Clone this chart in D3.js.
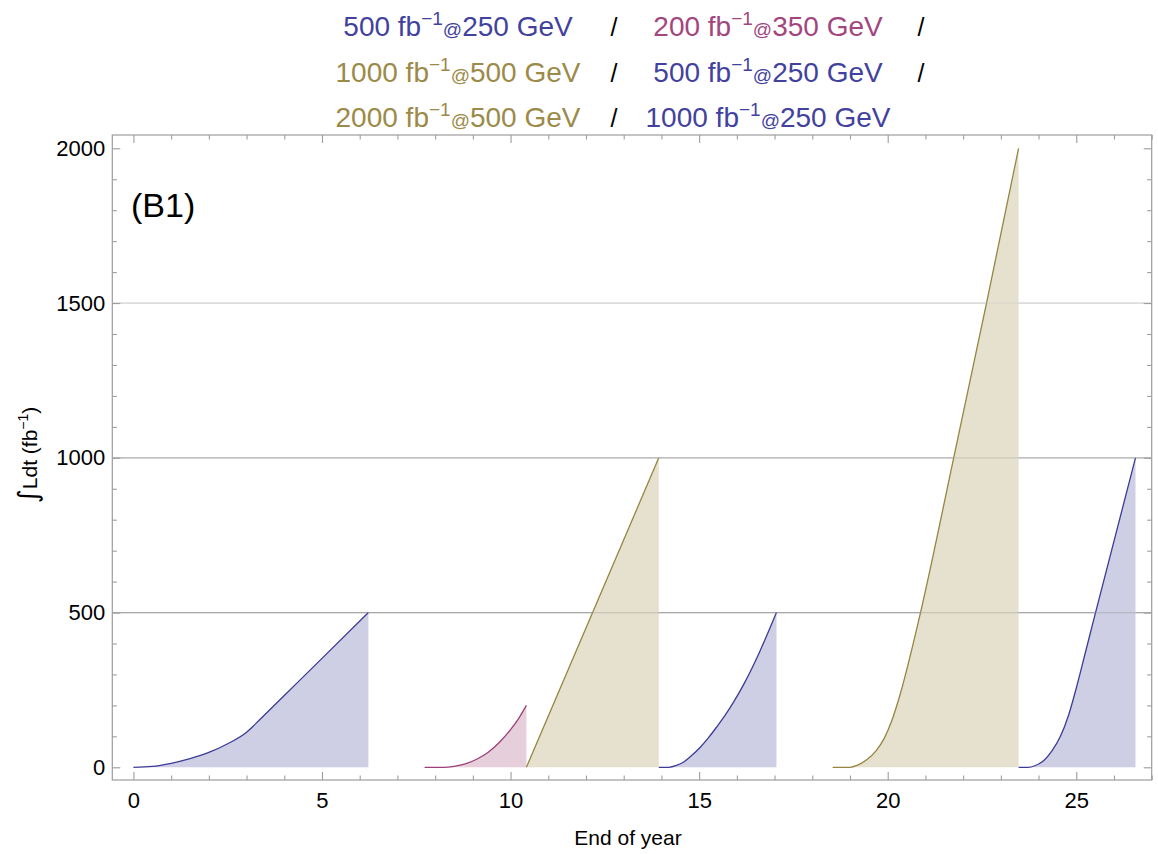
<!DOCTYPE html>
<html>
<head>
<meta charset="utf-8">
<script src="https://cdn.jsdelivr.net/npm/d3@7"></script>
<style>
  html, body { margin: 0; padding: 0; background: #fff; }
  svg { display: block; font-family: "Liberation Sans", Arial, Helvetica, sans-serif; }
</style>
</head>
<body>
<svg id="chart" width="1158" height="854"></svg>
<script>
// ---------------- data ----------------
const xTicks = [0, 5, 10, 15, 20, 25];
const yTicks = [0, 500, 1000, 1500, 2000];
const yGrid = [500, 1000, 1500];

// run stages: [year, integrated luminosity fb^-1]
const run1_250 = [[0,0],[0.5,3],[1,13],[1.5,28],[2,48],[2.5,76],[3,113],[3.25,142],[4,232],[5,352],[6.23,500]];
const run2_350 = [[7.72,0],[8.22,0],[8.5,3],[8.8,11],[9.1,26],[9.4,48],[9.7,80],[10.0,122],[10.2,155],[10.42,200]];
const run3_500 = [[10.42,0],[13.93,1000]];
const run4_250 = [[13.93,0],[14.19,0],[14.4,6],[14.6,18],[14.8,38],[15.03,65],[15.25,96],[15.47,131],[15.7,170],[15.92,212],[16.2,272],[16.6,372],[17.05,500]];
const run5_500 = [[18.54,0],[18.99,0],[19.2,7],[19.45,25],[19.7,55],[19.9,92],[20.1,148],[20.34,240],[20.6,362],[20.87,500],[21.75,1000],[22.62,1500],[23.47,2000]];
const run6_250 = [[23.47,0],[23.72,0],[23.9,5],[24.14,22],[24.35,52],[24.58,100],[24.8,170],[25.02,265],[25.25,375],[25.48,485],[26.57,1000]];

const runs = [run1_250, run2_350, run3_500, run4_250, run5_500, run6_250];
const runEnergy = ["250", "350", "500", "250", "500", "250"];

// title rows: [luminosity, energy] per stage, row by row
const titleLum = [["500", "200"], ["1000", "500"], ["2000", "1000"]];
const titleEnergy = [["250", "350"], ["500", "250"], ["500", "250"]];

// ---------------- styles ----------------
const lineColor = { "250": "#3c3c98", "350": "#9c3f77", "500": "#968540" };
const textColor = { "250": "#42429e", "350": "#a3467e", "500": "#9c8a48" };
const fillColor = { "250": "#c6c6e1", "350": "#e2c5d5", "500": "#e0dcc6" };

const svg = d3.select("#chart");
const frame = { left: 112.3, right: 1151.7, top: 135, bottom: 780 };

const x = d3.scaleLinear().domain([-0.56, 27.0]).range([frame.left, frame.right]);
const y = d3.scaleLinear().domain([0, 2000]).range([767.3, 148.3]);

// gridlines
const gridColor = { 500: "#a9a9a9", 1000: "#b4b4b4", 1500: "#d4d4d4" };
svg.append("g").selectAll("line").data(yGrid).join("line")
  .attr("x1", frame.left).attr("x2", frame.right)
  .attr("y1", d => y(d)).attr("y2", d => y(d))
  .attr("stroke", d => gridColor[d]).attr("stroke-width", 1.2);

// areas
const area = d3.area().x(d => x(d[0])).y0(y(0)).y1(d => y(d[1])).curve(d3.curveMonotoneX);
const line = d3.line().x(d => x(d[0])).y(d => y(d[1])).curve(d3.curveMonotoneX);

const g = svg.append("g");
runs.forEach((r, i) => {
  g.append("path").datum(r).attr("d", area)
    .attr("fill", fillColor[runEnergy[i]]).attr("fill-opacity", 0.85);
});
// gridlines faintly visible through translucent fill
svg.append("g").selectAll("line").data(yGrid).join("line")
  .attr("x1", frame.left).attr("x2", frame.right)
  .attr("y1", d => y(d)).attr("y2", d => y(d))
  .attr("stroke", d => gridColor[d]).attr("stroke-width", 1.2).attr("stroke-opacity", 0.35);
runs.forEach((r, i) => {
  g.append("path").datum(r).attr("d", line)
    .attr("fill", "none").attr("stroke", lineColor[runEnergy[i]]).attr("stroke-width", 1.3);
});

// frame
const axisColor = "#9d9d9d";
svg.append("rect")
  .attr("x", frame.left).attr("y", frame.top)
  .attr("width", frame.right - frame.left).attr("height", frame.bottom - frame.top)
  .attr("fill", "none").attr("stroke", axisColor).attr("stroke-width", 1.2);

const xMinor = d3.range(0, 28, 1).filter(v => v % 5 !== 0);
const yMinor = d3.range(0, 2001, 100).filter(v => v % 500 !== 0);

function styleAxis(sel) {
  sel.select(".domain").remove();
  sel.selectAll(".tick line").attr("stroke", axisColor).attr("stroke-width", 1.1);
  sel.selectAll(".tick text").attr("fill", "#000").attr("font-size", 22)
    .attr("font-family", "Liberation Sans, Arial, sans-serif");
}

// bottom axis
svg.append("g").attr("transform", `translate(0,${frame.bottom})`)
  .call(d3.axisBottom(x).tickValues(xTicks).tickSize(-8).tickPadding(12).tickFormat(d3.format("d")))
  .call(styleAxis);
svg.append("g").attr("transform", `translate(0,${frame.bottom})`)
  .call(d3.axisBottom(x).tickValues(xMinor).tickSize(-4.5).tickFormat(""))
  .call(styleAxis);
// top mirror
svg.append("g").attr("transform", `translate(0,${frame.top})`)
  .call(d3.axisTop(x).tickValues(xTicks).tickSize(-8).tickFormat(""))
  .call(styleAxis);
svg.append("g").attr("transform", `translate(0,${frame.top})`)
  .call(d3.axisTop(x).tickValues(xMinor).tickSize(-4.5).tickFormat(""))
  .call(styleAxis);
// left axis
svg.append("g").attr("transform", `translate(${frame.left},0)`)
  .call(d3.axisLeft(y).tickValues(yTicks).tickSize(-8).tickPadding(7).tickFormat(d3.format("d")))
  .call(styleAxis);
svg.append("g").attr("transform", `translate(${frame.left},0)`)
  .call(d3.axisLeft(y).tickValues(yMinor).tickSize(-4.5).tickFormat(""))
  .call(styleAxis);
// right mirror
svg.append("g").attr("transform", `translate(${frame.right},0)`)
  .call(d3.axisRight(y).tickValues(yTicks).tickSize(-8).tickFormat(""))
  .call(styleAxis);
svg.append("g").attr("transform", `translate(${frame.right},0)`)
  .call(d3.axisRight(y).tickValues(yMinor).tickSize(-4.5).tickFormat(""))
  .call(styleAxis);

// axis labels
svg.append("text").attr("x", 628).attr("y", 845).attr("text-anchor", "middle")
  .attr("font-size", 21).attr("fill", "#000").text("End of year");

const yl = svg.append("text").attr("transform", "translate(37,455) rotate(-90)")
  .attr("text-anchor", "middle").attr("font-size", 21).attr("fill", "#000");
yl.append("tspan").attr("font-size", 27).attr("font-family", "DejaVu Sans").text("∫");
yl.append("tspan").text("Ldt (fb");
yl.append("tspan").attr("font-size", 14).attr("dy", -9).text("−1");
yl.append("tspan").attr("dy", 9).text(")");

// panel tag
svg.append("text").attr("x", 131).attr("y", 217).attr("font-size", 34).attr("fill", "#000").text("(B1)");

// title rows
const rowY = [36, 82, 127];
const colX = [458, 768];
const slashX = [[614, 921], [614, 921], [614]];
titleLum.forEach((row, ri) => {
  row.forEach((lum, ci) => {
    const e = titleEnergy[ri][ci];
    const t = svg.append("text").attr("x", colX[ci]).attr("y", rowY[ri])
      .attr("text-anchor", "middle").attr("font-size", 28).attr("fill", textColor[e]);
    t.append("tspan").text(lum + " fb");
    t.append("tspan").attr("font-size", 19).attr("dy", -11).text("−1");
    t.append("tspan").attr("font-size", 19).attr("dy", 11).text("@");
    t.append("tspan").text(e + " GeV");
  });
  slashX[ri].forEach(sx => {
    svg.append("text").attr("x", sx).attr("y", rowY[ri]).attr("text-anchor", "middle")
      .attr("font-size", 25).attr("fill", "#000").text("/");
  });
});
</script>
</body>
</html>
